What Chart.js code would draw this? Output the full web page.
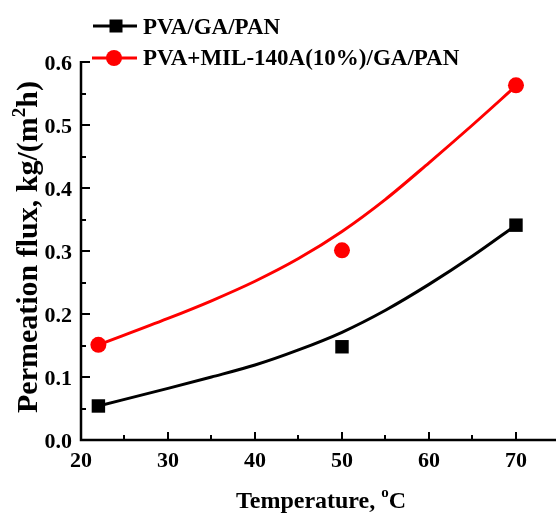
<!DOCTYPE html>
<html>
<head>
<meta charset="utf-8">
<script src="https://cdn.jsdelivr.net/npm/chart.js@4/dist/chart.umd.min.js"></script>
<style>
    body { margin: 0; background: #fff; }
    #wrap { width: 556px; height: 514px; }
</style>
</head>
<body>
<div id="wrap"><canvas id="fluxChart" width="556" height="514"></canvas></div>
<script>
// measured points
var tempC = [22, 50, 70];
var fluxPlain = [0.054, 0.148, 0.341];
var fluxMil = [0.151, 0.301, 0.563];

// fitted curves
var fitTemp = [22, 30, 35, 40, 45, 50, 55, 60, 65, 70];
var fitPlain = [0.054, 0.082, 0.100, 0.119, 0.143, 0.171, 0.206, 0.247, 0.292, 0.341];
var fitMil = [0.151, 0.193, 0.221, 0.252, 0.288, 0.331, 0.382, 0.440, 0.500, 0.562];

var xTicks = [20, 30, 40, 50, 60, 70];
var yTicks = ['0.0', '0.1', '0.2', '0.3', '0.4', '0.5', '0.6'];

var seriesNames = ['PVA/GA/PAN', 'PVA+MIL-140A(10%)/GA/PAN'];

var FONT = '"Liberation Serif", "Times New Roman", serif';

function toPoints(xs, ys) {
    return xs.map(function(x, i) { return { x: x, y: ys[i] }; });
}

// axes, ticks, titles and legend are painted by hand
var frame = {
    id: 'frame',
    afterDraw: function(chart) {
        var ctx = chart.ctx;
        var xs = chart.scales.x, ys = chart.scales.y;
        var area = chart.chartArea;
        var left = Math.round(area.left), bottom = Math.round(area.bottom);

        ctx.save();
        ctx.strokeStyle = '#000';
        ctx.fillStyle = '#000';
        ctx.lineWidth = 2.5;
        ctx.beginPath();
        ctx.moveTo(left, area.top - 1);
        ctx.lineTo(left, bottom);
        ctx.lineTo(chart.width, bottom);
        ctx.stroke();

        ctx.lineWidth = 2;
        ctx.beginPath();
        for (var v = 0; v <= 0.6001; v += 0.05) {
            var py = Math.round(ys.getPixelForValue(v));
            var major = Math.round(v * 100) % 10 === 0;
            ctx.moveTo(left, py);
            ctx.lineTo(left + (major ? 9 : 5), py);
        }
        for (var t = 25; t <= 70; t += 5) {
            var px = Math.round(xs.getPixelForValue(t));
            var majorX = t % 10 === 0;
            ctx.moveTo(px, bottom);
            ctx.lineTo(px, bottom - (majorX ? 8 : 5));
        }
        ctx.stroke();

        ctx.font = 'bold 22px ' + FONT;
        ctx.textAlign = 'right';
        ctx.textBaseline = 'alphabetic';
        yTicks.forEach(function(lbl) {
            ctx.fillText(lbl, 72, ys.getPixelForValue(parseFloat(lbl)) + 7.5);
        });
        ctx.textAlign = 'center';
        xTicks.forEach(function(t) {
            ctx.fillText(String(t), xs.getPixelForValue(t), 467);
        });

        // x title with superscript o
        ctx.textAlign = 'left';
        var a = 'Temperature, ', c = 'C';
        ctx.font = 'bold 15px ' + FONT;
        var wo = ctx.measureText('o').width;
        ctx.font = 'bold 24px ' + FONT;
        var wa = ctx.measureText(a).width, wc = ctx.measureText(c).width;
        var x0 = 321 - (wa + wo + wc) / 2;
        ctx.fillText(a, x0, 508);
        ctx.font = 'bold 15px ' + FONT;
        ctx.fillText('o', x0 + wa, 497);
        ctx.font = 'bold 24px ' + FONT;
        ctx.fillText(c, x0 + wa + wo, 508);

        // y title, rotated, with superscript 2
        ctx.translate(37, 247);
        ctx.rotate(-Math.PI / 2);
        var p1 = 'Permeation flux, kg/(m', p3 = 'h)';
        ctx.font = 'bold 19px ' + FONT;
        var w2 = ctx.measureText('2').width;
        ctx.font = 'bold 30px ' + FONT;
        var w1 = ctx.measureText(p1).width, w3 = ctx.measureText(p3).width;
        var s0 = -(w1 + w2 + w3) / 2;
        ctx.fillText(p1, s0, 0);
        ctx.font = 'bold 19px ' + FONT;
        ctx.fillText('2', s0 + w1, -12);
        ctx.font = 'bold 30px ' + FONT;
        ctx.fillText(p3, s0 + w1 + w2, 0);
        ctx.restore();

        // legend
        ctx.save();
        ctx.lineWidth = 3;
        ctx.strokeStyle = '#000';
        ctx.beginPath();
        ctx.moveTo(93, 26);
        ctx.lineTo(137, 26);
        ctx.stroke();
        ctx.fillStyle = '#000';
        ctx.fillRect(116 - 6.5, 26 - 6.5, 13, 13);
        ctx.strokeStyle = '#ff0000';
        ctx.beginPath();
        ctx.moveTo(92, 58);
        ctx.lineTo(137, 58);
        ctx.stroke();
        ctx.fillStyle = '#ff0000';
        ctx.beginPath();
        ctx.arc(114, 58, 8, 0, Math.PI * 2);
        ctx.fill();
        ctx.fillStyle = '#000';
        ctx.font = 'bold 23px ' + FONT;
        ctx.textAlign = 'left';
        ctx.fillText(seriesNames[0], 143, 34);
        ctx.fillText(seriesNames[1], 143, 65);
        ctx.restore();
    }
};

var ctx = document.getElementById('fluxChart').getContext('2d');
var fluxChart = new Chart(ctx, {
    type: 'scatter',
    data: {
        datasets: [{
            label: seriesNames[0],
            data: toPoints(tempC, fluxPlain),
            pointStyle: 'rect',
            pointRadius: 9.5,
            backgroundColor: '#000',
            borderColor: '#000',
            borderWidth: 0,
            clip: false,
            order: 0,
        }, {
            label: seriesNames[1],
            data: toPoints(tempC, fluxMil),
            pointStyle: 'circle',
            pointRadius: 8,
            backgroundColor: '#ff0000',
            borderColor: '#ff0000',
            borderWidth: 0,
            clip: false,
            order: 0,
        }, {
            label: 'fit1',
            data: toPoints(fitTemp, fitPlain),
            showLine: true,
            pointRadius: 0,
            borderColor: '#000',
            borderWidth: 3,
            cubicInterpolationMode: 'monotone',
            order: 1,
        }, {
            label: 'fit2',
            data: toPoints(fitTemp, fitMil),
            showLine: true,
            pointRadius: 0,
            borderColor: '#ff0000',
            borderWidth: 3,
            cubicInterpolationMode: 'monotone',
            order: 1,
        }]
    },
    options: {
        responsive: false,
        animation: false,
        events: [],
        layout: {
            autoPadding: false,
            padding: { left: 81, top: 62, right: 0, bottom: 74 }
        },
        scales: {
            x: { type: 'linear', min: 20, max: 74.6, display: false },
            y: { type: 'linear', min: 0, max: 0.6, display: false }
        },
        plugins: {
            legend: { display: false },
            tooltip: { enabled: false }
        }
    },
    plugins: [frame]
});
</script>
</body>
</html>
